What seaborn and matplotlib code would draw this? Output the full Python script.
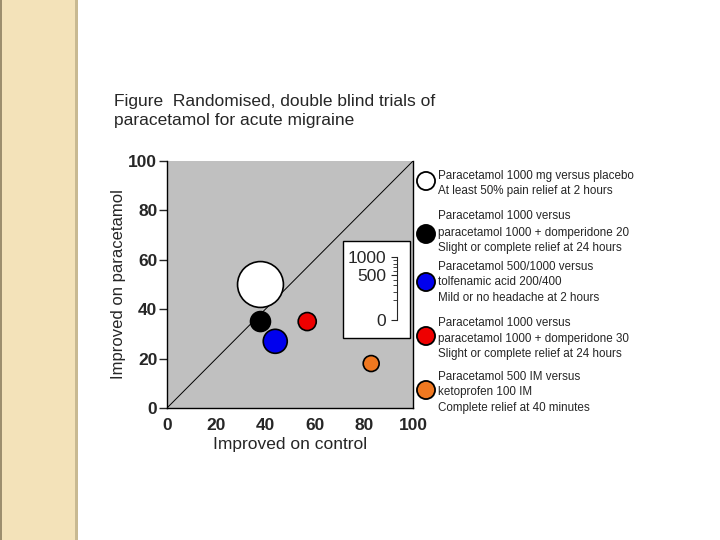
import matplotlib
matplotlib.use('Agg')
import matplotlib.pyplot as plt
from matplotlib.patches import Rectangle
import seaborn as sns
import pandas as pd
import numpy as np

# dados
ensaios = ['placebo', 'domperidona20', 'tolfenamico', 'domperidona30', 'cetoprofeno']
melhora_controle = [38, 38, 44, 57, 83]
melhora_paracetamol = [50, 35, 27, 35, 18]
pacientes = [530, 100, 145, 82, 64]
cores = ['white', 'black', '#0000EE', '#EE0000', '#F07820']

legenda_textos = [
    ['Paracetamol 1000 mg versus placebo', 'At least 50% pain relief at 2 hours'],
    ['Paracetamol 1000 versus', 'paracetamol 1000 + domperidone 20', 'Slight or complete relief at 24 hours'],
    ['Paracetamol 500/1000 versus', 'tolfenamic acid 200/400', 'Mild or no headache at 2 hours'],
    ['Paracetamol 1000 versus', 'paracetamol 1000 + domperidone 30', 'Slight or complete relief at 24 hours'],
    ['Paracetamol 500 IM versus', 'ketoprofen 100 IM', 'Complete relief at 40 minutes'],
]
escala_ticks = [0, 500, 1000]

df = pd.DataFrame({'ensaio': ensaios, 'controle': melhora_controle,
                   'paracetamol': melhora_paracetamol, 'n': pacientes})

sns.set_style('white')
plt.rcParams['font.family'] = ['Liberation Sans', 'DejaVu Sans']

fig = plt.figure(figsize=(7.2, 5.4), dpi=100)

# faixa bege na esquerda
fig.patches.append(Rectangle((0, 0), 77 / 720, 1, transform=fig.transFigure,
                             facecolor='#F3E2B9', edgecolor='none', zorder=0))
fig.patches.append(Rectangle((75 / 720, 0), 3 / 720, 1, transform=fig.transFigure,
                             facecolor='#C8B992', edgecolor='none', zorder=0))
fig.patches.append(Rectangle((0, 0), 1.5 / 720, 1, transform=fig.transFigure,
                             facecolor='#9C8E6E', edgecolor='none', zorder=0))

ax = fig.add_axes([167 / 720, 132 / 540, 246 / 720, 247 / 540])
ax.set_facecolor('#C0C0C0')
ax.plot([0, 100], [0, 100], color='black', lw=0.7, zorder=1)

sns.scatterplot(data=df, x='controle', y='paracetamol', hue='ensaio', palette=cores,
                size='n', sizes=(0, 2058), size_norm=(0, 1000), edgecolor='black',
                linewidth=1.2, legend=False, ax=ax, zorder=3, alpha=1)

ax.set_xlim(0, 100)
ax.set_ylim(0, 100)
ax.set_xticks([0, 20, 40, 60, 80, 100])
ax.set_yticks([0, 20, 40, 60, 80, 100])
ax.tick_params(axis='y', left=True, direction='out', length=6, width=1, pad=1, labelsize=12.5)
ax.tick_params(axis='x', bottom=False, length=0, pad=7, labelsize=12.5)
for lbl in ax.get_xticklabels() + ax.get_yticklabels():
    lbl.set_fontweight('bold')
ax.set_xlabel('Improved on control', fontsize=12.5, labelpad=3)
ax.set_ylabel('Improved on paracetamol', fontsize=12, labelpad=2)
ax.spines['top'].set_visible(False)
for s in ['left', 'bottom', 'right']:
    ax.spines[s].set_color('black')
    ax.spines[s].set_linewidth(1)

# caixa da escala de tamanho
ax.add_patch(Rectangle((71.5, 28.3), 27.3, 39.3, facecolor='white', edgecolor='black',
                       lw=1, zorder=2))
sax = fig.add_axes([397 / 720, 220 / 540, 6 / 720, 63 / 540])
sax.set_facecolor('none')
sax.set_yscale('function', functions=(np.sqrt, np.square))
sax.set_ylim(0, 1000)
sax.set_yticks(escala_ticks)
sax.set_yticks(np.arange(0, 1001, 100), minor=True)
sax.set_yticklabels([str(t) for t in escala_ticks], fontsize=12.5)
sax.tick_params(axis='y', which='both', left=True)
sax.tick_params(axis='y', which='major', direction='out', length=4, width=0.8, pad=4)
sax.tick_params(axis='y', which='minor', direction='out', length=3, width=0.6)
sax.set_xticks([])
for s in ['top', 'right', 'bottom']:
    sax.spines[s].set_visible(False)
sax.spines['left'].set_linewidth(0.8)

fig.text(114 / 720, 1 - 94 / 540, 'Figure  Randomised, double blind trials of\nparacetamol for acute migraine',
         fontsize=12.5, va='top', ha='left', linespacing=1.35)

# legenda à direita
circ_y = [181, 234, 282, 336, 390]
linhas_y = [[176, 191], [216, 233, 248], [267, 282, 298], [323, 339, 354], [377, 392, 408]]
lax = fig.add_axes([0, 0, 1, 1], zorder=5)
lax.set_xlim(0, 720)
lax.set_ylim(540, 0)
lax.axis('off')
lax.scatter([426] * 5, circ_y, s=170, c=cores, edgecolors='black', linewidths=1.3)
for linhas, ys in zip(legenda_textos, linhas_y):
    for t, yy in zip(linhas, ys):
        lax.text(438, yy, t, fontsize=8.4, va='center', ha='left')

plt.savefig('out.png', dpi=100)
